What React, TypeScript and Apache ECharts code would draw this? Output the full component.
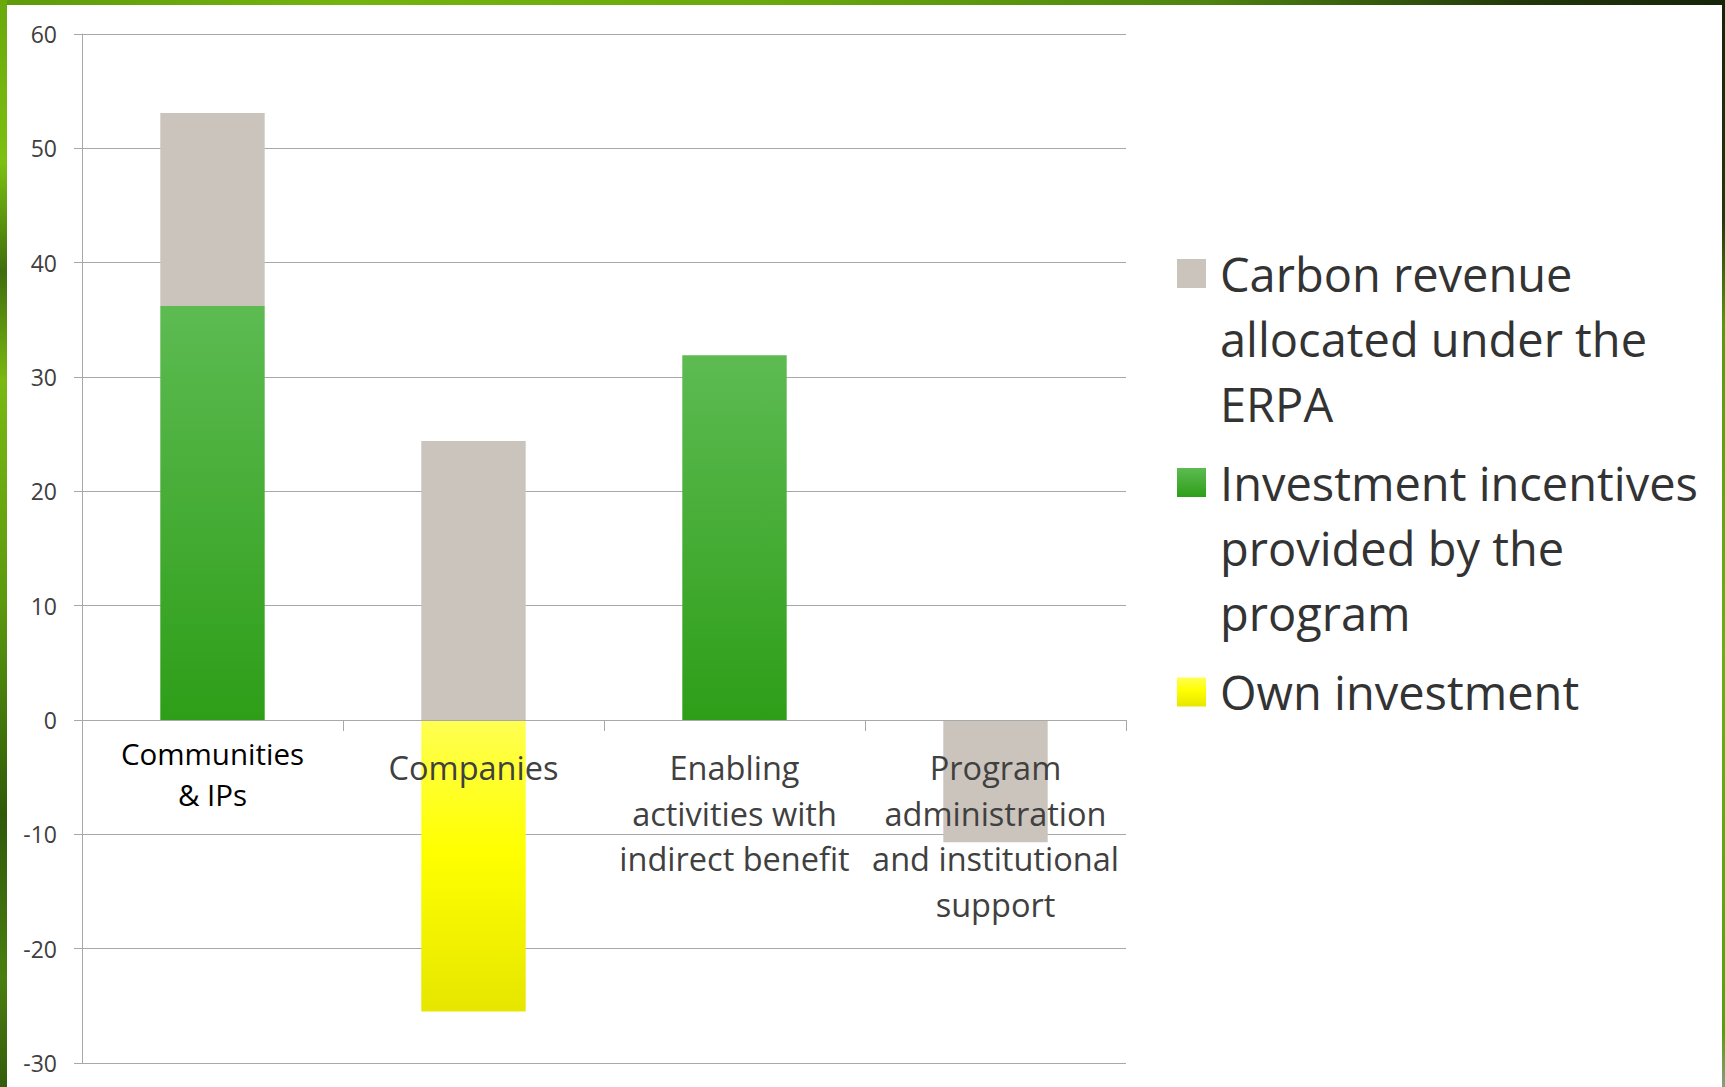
import React, { useEffect, useRef } from "react";
import * as echarts from "echarts";

// ---------- data ----------
const categories = [
  "Communities & IPs",
  "Companies",
  "Enabling activities with indirect benefit",
  "Program administration and institutional support",
];
const categoryLabelLines = [
  ["Communities", "& IPs"],
  ["Companies"],
  ["Enabling", "activities with", "indirect benefit"],
  ["Program", "administration", "and institutional", "support"],
];
const seriesNames = [
  "Carbon revenue allocated under the ERPA",
  "Investment incentives provided by the program",
  "Own investment",
];
const legendLines = [
  ["Carbon revenue", "allocated under the", "ERPA"],
  ["Investment incentives", "provided by the", "program"],
  ["Own investment"],
];
const carbonRevenue = [16.9, 24.4, null, -10.7];
const investmentIncentives = [36.2, null, 31.9, null];
const ownInvestment = [null, -25.5, null, null];
const yMin = -30;
const yMax = 60;
const yInterval = 10;

// ---------- styling / layout ----------
const FONT = "'Open Sans', 'Noto Sans', sans-serif";
const GREY = "#cbc4bc";
const GRID_COLOR = "#a8a8a8";
const legendIconCenters = [273.5, 482.5, 692];
const LEGEND_LH = 65;
const GRID_TOP = 34;
const GRID_BOTTOM = 24;
const CHART_H = 1087;
// x labels are anchored at the grid's bottom edge; pull them up to just below the zero line
const LABEL_TOP = 733;
const X_LABEL_MARGIN = LABEL_TOP - (CHART_H - GRID_BOTTOM);

const greenGrad = new echarts.graphic.LinearGradient(0, 0, 0, 1, [
  { offset: 0, color: "#5dbb52" },
  { offset: 1, color: "#2e9e18" },
]);
const yellowGrad = new echarts.graphic.LinearGradient(0, 0, 0, 1, [
  { offset: 0, color: "#ffff52" },
  { offset: 0.45, color: "#ffff00" },
  { offset: 1, color: "#e6e600" },
]);

export default function App() {
  const ref = useRef<HTMLDivElement>(null);

  useEffect(() => {
    if (!ref.current) return;
    const chart = echarts.init(ref.current, undefined, { renderer: "svg" });
    const option: any = {
      animation: false,
      backgroundColor: "transparent",
      textStyle: { fontFamily: FONT },
      grid: {
        left: 82,
        right: 599,
        top: GRID_TOP,
        bottom: GRID_BOTTOM,
        containLabel: false,
        outerBoundsMode: "none",
      },
      xAxis: {
        type: "category",
        data: categories,
        z: 5,
        axisLine: { show: true, onZero: true, lineStyle: { color: GRID_COLOR, width: 1 } },
        axisTick: { show: true, length: 11, alignWithLabel: false, lineStyle: { color: GRID_COLOR } },
        splitLine: { show: false },
        axisLabel: {
          interval: 0,
          margin: X_LABEL_MARGIN,
          hideOverlap: false,
          formatter: (_v: string, idx: number) => {
            const lines = categoryLabelLines[idx] || [];
            if (idx === 0) return lines.map((l) => `{a|${l}}`).join("\n");
            return "{sp| }\n" + lines.map((l) => `{b|${l}}`).join("\n");
          },
          rich: {
            a: { fontFamily: FONT, fontSize: 29.5, lineHeight: 41, color: "#000000", align: "center" },
            b: { fontFamily: FONT, fontSize: 32.5, lineHeight: 45.5, color: "#404040", align: "center" },
            sp: { fontSize: 1, lineHeight: 12 },
          },
        },
      },
      yAxis: {
        type: "value",
        min: yMin,
        max: yMax,
        interval: yInterval,
        axisLine: { show: true, lineStyle: { color: GRID_COLOR, width: 1 } },
        axisTick: { show: true, length: 8, lineStyle: { color: GRID_COLOR } },
        splitLine: { show: true, lineStyle: { color: GRID_COLOR, width: 1 } },
        axisLabel: { fontFamily: FONT, fontSize: 23, color: "#404040", margin: 25 },
      },
      legend: legendLines.map((lines, i) => ({
        show: true,
        orient: "vertical",
        left: 1177,
        top: legendIconCenters[i] - ((2 * lines.length - 1) * LEGEND_LH) / 2,
        padding: 0,
        itemWidth: 29,
        itemHeight: 29,
        icon: "rect",
        selectedMode: false,
        data: [seriesNames[i]],
        formatter: () => "\n".repeat(lines.length - 1) + lines.join("\n"),
        textStyle: {
          fontFamily: FONT,
          fontSize: 47,
          lineHeight: LEGEND_LH,
          color: "#333333",
          padding: [0, 0, 0, 9],
        },
      })),
      series: [
        {
          name: seriesNames[1],
          type: "bar",
          stack: "total",
          barWidth: "40%",
          data: investmentIncentives,
          itemStyle: { color: greenGrad },
          emphasis: { disabled: true },
        },
        {
          name: seriesNames[0],
          type: "bar",
          stack: "total",
          barWidth: "40%",
          data: carbonRevenue,
          itemStyle: { color: GREY },
          emphasis: { disabled: true },
        },
        {
          name: seriesNames[2],
          type: "bar",
          stack: "total",
          barWidth: "40%",
          data: ownInvestment,
          itemStyle: { color: yellowGrad },
          emphasis: { disabled: true },
        },
      ],
    };
    chart.setOption(option);
    return () => chart.dispose();
  }, []);

  return (
    <div
      style={{
        position: "fixed",
        left: 0,
        top: 0,
        width: 1725,
        height: 1087,
        overflow: "hidden",
        background: "#5f9c0c",
      }}
    >
      {/* foliage-like frame */}
      <div
        style={{
          position: "absolute",
          left: 0,
          top: 0,
          width: 1725,
          height: 6,
          background:
            "linear-gradient(90deg, #5e9a0a 0%, #74b40e 20%, #6aa80c 45%, #4e8410 70%, #22380a 88%, #16240a 100%)",
        }}
      />
      <div
        style={{
          position: "absolute",
          left: 0,
          top: 0,
          width: 7,
          height: 1087,
          background:
            "linear-gradient(180deg, #6aa80c 0%, #7cc010 15%, #3f6e0c 25%, #7ab812 35%, #5c9a0e 55%, #2f5a0a 75%, #4a7e10 90%, #355d0c 100%)",
        }}
      />
      <div
        style={{
          position: "absolute",
          right: 0,
          top: 0,
          width: 3,
          height: 1087,
          background:
            "linear-gradient(180deg, #16240a 0%, #22380a 20%, #5a9a0a 30%, #6cb00e 60%, #58a00a 95%, #8a9a80 100%)",
        }}
      />
      <div
        style={{
          position: "absolute",
          left: 7,
          top: 5,
          width: 1715,
          height: 1082,
          background: "#ffffff",
        }}
      />
      <div
        ref={ref}
        style={{ position: "absolute", left: 0, top: 0, width: 1725, height: 1087 }}
      />
    </div>
  );
}
